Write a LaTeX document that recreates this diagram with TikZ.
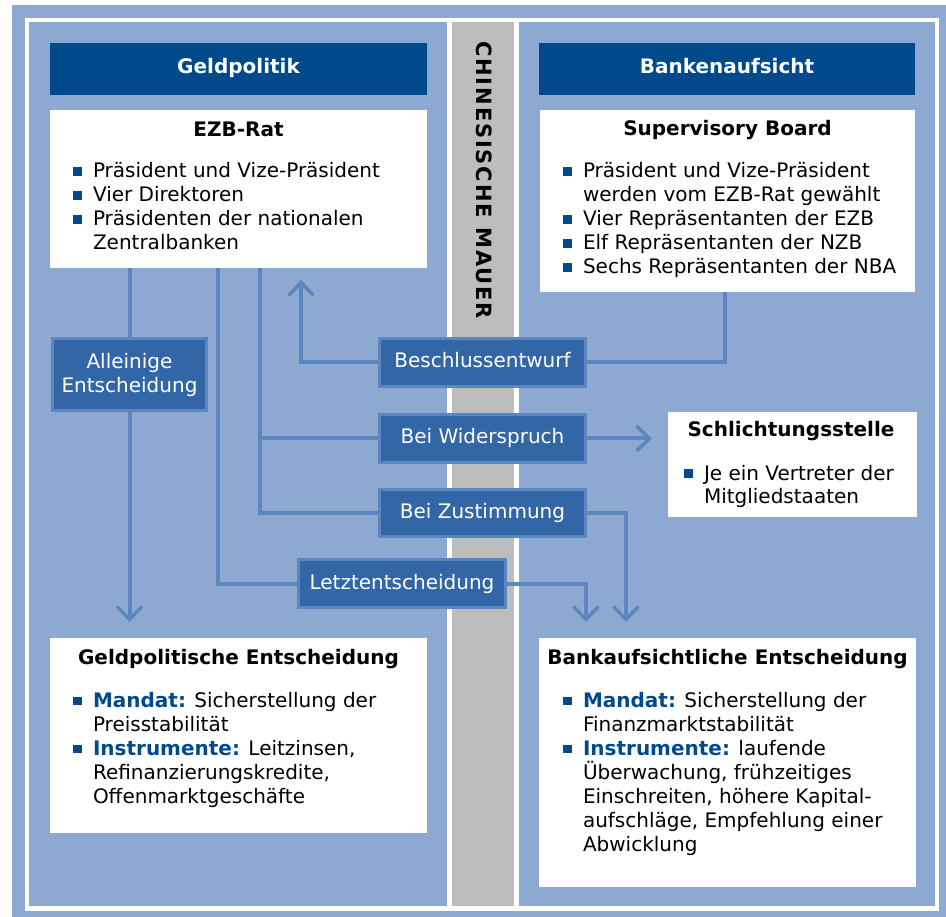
\documentclass[tikz,border=0pt]{standalone}
\usepackage{fontspec}
\setmainfont{DejaVu Sans}
\usetikzlibrary{arrows.meta}
\definecolor{outerblue}{HTML}{8DA9D1}
\definecolor{hdrblue}{HTML}{004A8C}
\definecolor{midblue}{HTML}{3366A6}
\definecolor{bordblue}{HTML}{5B86BF}
\definecolor{linkblue}{HTML}{5B86BF}
\definecolor{wallgray}{HTML}{BDBDBD}
\newcommand{\bul}{\llap{\textcolor{hdrblue}{\rule[2pt]{8.5pt}{8.5pt}}\hspace{11.5pt}}}
\newcommand{\kw}[1]{\textcolor{hdrblue}{\bfseries #1}}
\newcommand{\txtlines}[1]{\vtop{\baselineskip=24pt\lineskiplimit=-20pt\lineskip=0pt #1}}
\newcommand{\fsz}{\fontsize{20pt}{24pt}\selectfont}
\begin{document}
\begin{tikzpicture}[x=1pt,y=-1pt,
  every node/.style={font=\fsz, inner sep=0pt, outer sep=0pt},
  hdr/.style={fill=hdrblue},
  wbox/.style={fill=white},
  mbox/.style={fill=midblue, draw=bordblue, line width=3pt, text=white, text height=11pt, text depth=0pt},
  conn/.style={draw=linkblue, line width=4pt},
  tipped/.style={-{Straight Barb[length=13pt, width=25pt, line width=3.5pt]}},
  arr/.style={conn, tipped, shorten >=16pt},
  ttl/.style={anchor=base, font=\fsz\bfseries},
  lst/.style={anchor=base west}
]
\useasboundingbox (0,0) rectangle (946,917);
% frames
\fill[white] (0,0) rectangle (946,917);
\fill[outerblue] (12,5) rectangle (946,917);
\fill[white] (25,18) rectangle (939,911);
\fill[outerblue] (29,22) rectangle (447,906);
\fill[wallgray] (452,22) rectangle (514,906);
\fill[outerblue] (519,22) rectangle (935,906);

% wall text
\node[rotate=-90, font=\fontsize{21pt}{24pt}\selectfont\bfseries\addfontfeatures{LetterSpace=9}] (wall) at (484,180) {CHINESISCHE MAUER};

% headers
\node[hdr, minimum width=377pt, minimum height=52pt] (hgeld) at (238.5,69) {};
\node[ttl, text=white] (hgeldt) at (238.5,74) {Geldpolitik};
\node[hdr, minimum width=376pt, minimum height=52pt] (hbank) at (727,69) {};
\node[ttl, text=white] (hbankt) at (727,74) {Bankenaufsicht};

% white boxes
\node[wbox, minimum width=377pt, minimum height=158pt] (ezb) at (238.5,189) {};
\node[ttl] (ezbt) at (238.5,137) {EZB-Rat};
\node[lst] (ezbl) at (93,178) {\txtlines{%
  \hbox{\bul Präsident und Vize-Präsident}%
  \hbox{\bul Vier Direktoren}%
  \hbox{\bul Präsidenten der nationalen}%
  \hbox{Zentralbanken}}};

\node[wbox, minimum width=375pt, minimum height=182pt] (sb) at (727.5,201) {};
\node[ttl] (sbt) at (727.5,136) {Supervisory Board};
\node[lst] (sbl) at (583,178) {\txtlines{%
  \hbox{\bul Präsident und Vize-Präsident}%
  \hbox{werden vom EZB-Rat gewählt}%
  \hbox{\bul Vier Repräsentanten der EZB}%
  \hbox{\bul Elf Repräsentanten der NZB}%
  \hbox{\bul Sechs Repräsentanten der NBA}}};

\node[wbox, minimum width=249pt, minimum height=105pt] (schl) at (792.5,464.5) {};
\node[ttl] (schlt) at (791,437) {Schlichtungsstelle};
\node[lst] (schll) at (704,480) {\txtlines{%
  \hbox{\bul Je ein Vertreter der}%
  \hbox{Mitgliedstaaten}}};

\node[wbox, minimum width=377pt, minimum height=195pt] (gpe) at (238.5,735.5) {};
\node[ttl] (gpet) at (238.5,664) {Geldpolitische Entscheidung};
\node[lst] (gpel) at (93,707) {\txtlines{%
  \hbox{\bul\kw{Mandat:} Sicherstellung der}%
  \hbox{Preisstabilität}%
  \hbox{\bul\kw{Instrumente:} Leitzinsen,}%
  \hbox{Refinanzierungskredite,}%
  \hbox{Offenmarktgeschäfte}}};

\node[wbox, minimum width=377pt, minimum height=249pt] (bae) at (727.5,762.5) {};
\node[ttl] (baet) at (727.5,664) {Bankaufsichtliche Entscheidung};
\node[lst] (bael) at (583,707) {\txtlines{%
  \hbox{\bul\kw{Mandat:} Sicherstellung der}%
  \hbox{Finanzmarktstabilität}%
  \hbox{\bul\kw{Instrumente:} laufende}%
  \hbox{Überwachung, frühzeitiges}%
  \hbox{Einschreiten, höhere Kapital-}%
  \hbox{aufschläge, Empfehlung einer}%
  \hbox{Abwicklung}}};

% connectors (drawn before the labelled boxes)
\coordinate (allc) at (129.5,374.5);
\coordinate (beschc) at (482.5,362.5);
\draw[conn] (ezb.south -| allc) -- (allc);
\draw[arr] (allc) -- (allc |- gpe.north);
\draw[conn] (218,0 |- ezb.south) |- (402,583.5);
\draw[conn] (260,0 |- ezb.south) |- (482.5,513);
\draw[conn] (260,438.5) -- (482.5,438.5);
\draw[conn, tipped, shorten >=12pt] (beschc) -| (301,0 |- ezb.south);
\draw[conn] (725,0 |- sb.south) |- (beschc);

% mid boxes
\node[mbox, minimum width=154pt, minimum height=72pt] (allein) at (allc) {};
\node[anchor=base, text=white] (allein1) at (129.5,369) {Alleinige};
\node[anchor=base, text=white] (allein2) at (129.5,393) {Entscheidung};
\node[mbox, minimum width=206pt, minimum height=48pt] (besch) at (beschc) {Beschlussentwurf};
\node[mbox, minimum width=206pt, minimum height=48pt] (wider) at (482.5,438.5) {Bei Widerspruch};
\node[mbox, minimum width=206pt, minimum height=47pt] (zust) at (482.5,513) {Bei Zustimmung};
\node[mbox, minimum width=207pt, minimum height=48pt] (letzt) at (402,583.5) {Letztentscheidung};

\draw[arr] (wider.east) -- (schl.west |- wider.east);
\draw[arr] (zust.east) -| (626,0 |- bae.north);
\draw[arr] (letzt.east) -| (586,0 |- bae.north);
\end{tikzpicture}
\end{document}
